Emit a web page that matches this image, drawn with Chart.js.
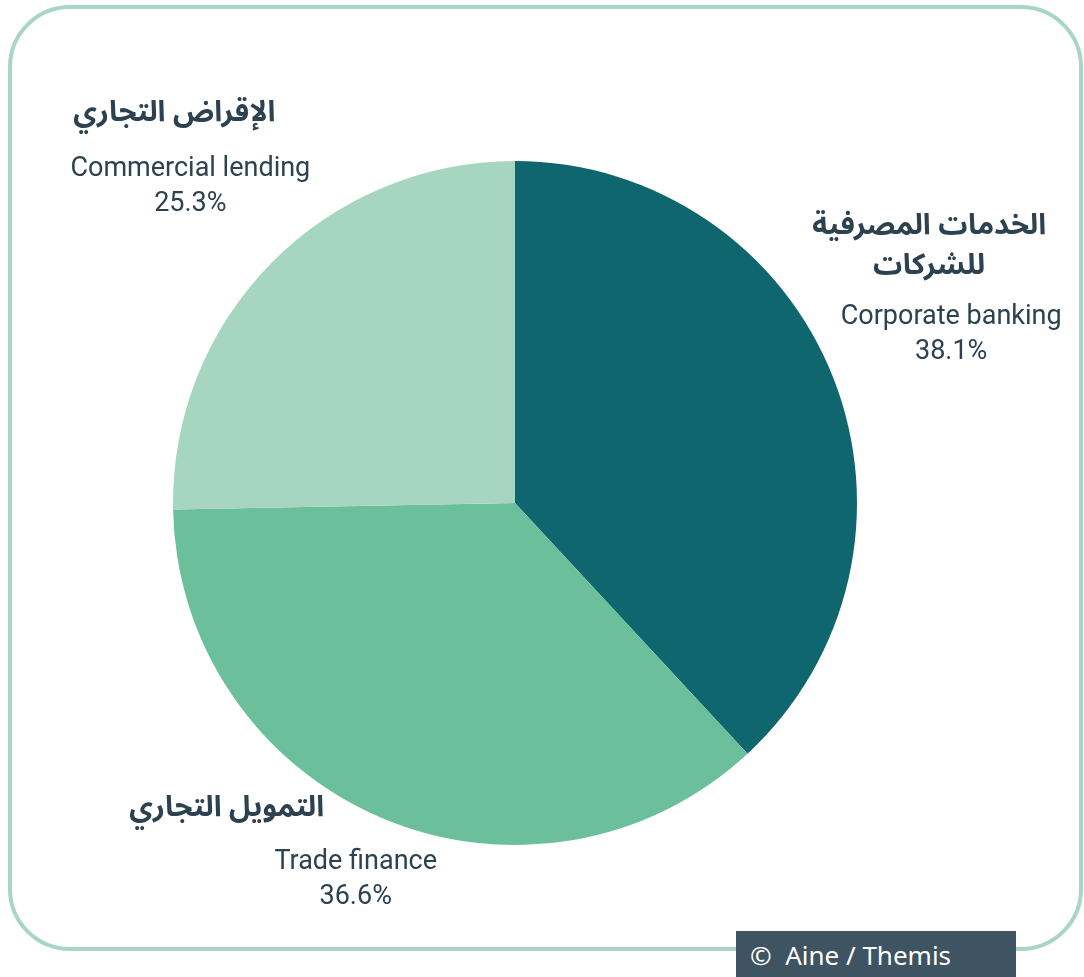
<!DOCTYPE html>
<html>
<head>
<meta charset="utf-8">
<script src="https://cdn.jsdelivr.net/npm/chart.js@4/dist/chart.umd.min.js"></script>
<style>
    html, body { margin: 0; padding: 0; background: #ffffff; }
    #wrap { position: relative; width: 1084px; height: 977px; overflow: hidden; }
    #frame {
        position: absolute; left: 8px; top: 5px; width: 1067px; height: 938px;
        border: 4px solid #a8d6c3; border-radius: 62px;
    }
    #pie { position: absolute; left: 0; top: 0; }
    #credit {
        position: absolute; left: 736px; top: 931px; width: 280px; height: 46px;
        background: #3e5462; color: #ffffff;
        font: 26px "Noto Sans", "Open Sans", sans-serif; line-height: 48px;
        box-sizing: border-box; padding-left: 14px; white-space: nowrap;
    }
</style>
</head>
<body>
<div id="wrap">
    <div id="frame"></div>
    <canvas id="pie" width="1084" height="977"></canvas>
    <div id="credit">©&nbsp; Aine / Themis</div>
</div>
<script>
const categories = ['Corporate banking', 'Trade finance', 'Commercial lending'];
const arabicTitles = [['الخدمات المصرفية', 'للشركات'], ['التمويل التجاري'], ['الإقراض التجاري']];
const shares = [38.1, 36.6, 25.3];
const colors = ['#10666f', '#6bc09b', '#a6d5c2'];

// where each label block sits: distance from centre (in radii) and shift of the arabic title
const labelPlacement = [
    { radius: 1.37, titleDx: -22, titleDy: 6 },
    { radius: 1.19, titleDx: -129, titleDy: 2 },
    { radius: 1.33, titleDx: -16, titleDy: 0 },
];

const textColor = '#2c4250';

const sliceLabels = {
    id: 'sliceLabels',
    afterDraw(chart) {
        const ctx = chart.ctx;
        const meta = chart.getDatasetMeta(0);
        meta.data.forEach((arc, i) => {
            const p = arc.getProps(['x', 'y', 'startAngle', 'endAngle', 'outerRadius']);
            const mid = (p.startAngle + p.endAngle) / 2;
            const place = labelPlacement[i];
            const cx = p.x + Math.cos(mid) * p.outerRadius * place.radius;
            const cy = p.y + Math.sin(mid) * p.outerRadius * place.radius;

            ctx.save();
            ctx.fillStyle = textColor;
            ctx.textAlign = 'center';
            ctx.textBaseline = 'middle';

            ctx.font = '27px Roboto, sans-serif';
            ctx.fillText(categories[i], cx, cy - 15);
            ctx.fillText(shares[i].toFixed(1) + '%', cx, cy + 20);

            ctx.font = 'bold 29px "Noto Sans Arabic", "DejaVu Sans", sans-serif';
            ctx.direction = 'rtl';
            const lines = arabicTitles[i];
            lines.forEach((line, k) => {
                const y = cy - 17 - 51 + place.titleDy - (lines.length - 1 - k) * 40;
                ctx.fillText(line, cx + place.titleDx, y);
            });
            ctx.restore();
        });
    }
};

new Chart(document.getElementById('pie'), {
    type: 'pie',
    plugins: [sliceLabels],
    data: {
        labels: categories,
        datasets: [{
            data: shares,
            backgroundColor: colors,
            borderWidth: 0,
        }]
    },
    options: {
        responsive: false,
        animation: false,
        layout: {
            padding: { left: 173, right: 227, top: 161, bottom: 132 }
        },
        plugins: {
            legend: { display: false },
            tooltip: { enabled: false },
        },
    },
});
</script>
</body>
</html>
